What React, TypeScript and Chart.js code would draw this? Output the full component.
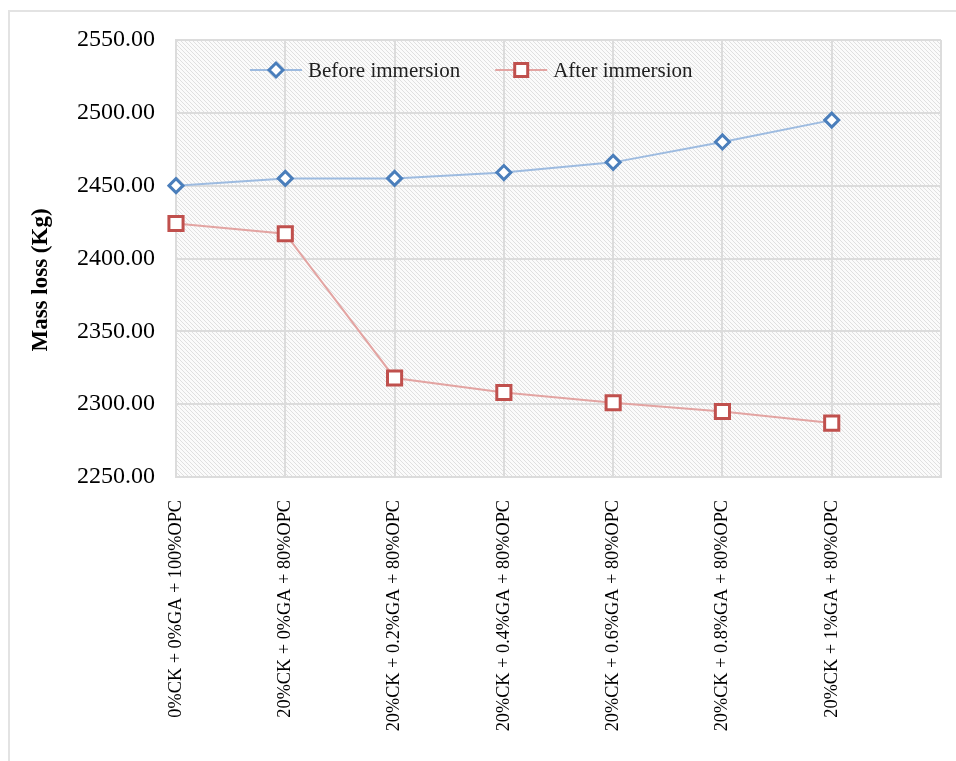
import React, { useEffect, useRef } from 'react';
import { Chart, registerables } from 'chart.js';

Chart.register(...registerables);

const categories = [
  '0%CK + 0%GA + 100%OPC',
  '20%CK + 0%GA + 80%OPC',
  '20%CK + 0.2%GA + 80%OPC',
  '20%CK + 0.4%GA + 80%OPC',
  '20%CK + 0.6%GA + 80%OPC',
  '20%CK + 0.8%GA + 80%OPC',
  '20%CK + 1%GA + 80%OPC',
];
const beforeImmersion = [2450, 2455, 2455, 2459, 2466, 2480, 2495];
const afterImmersion = [2424, 2417, 2318, 2308, 2301, 2295, 2287];
const seriesNames = ['Before immersion', 'After immersion'];
const yAxisTitle = 'Mass loss (Kg)';
const yMin = 2250;
const yMax = 2550;
const yStep = 50;

const FONT = "'Liberation Serif', 'Times New Roman', serif";
const BLUE = '#4a7ebb';
const BLUE_LINE = '#9dbbe0';
const RED = '#c0504d';
const RED_LINE = '#e3a4a2';
const GRID = '#dcdcdc';

const hatchPlugin = {
  id: 'hatch',
  beforeDraw(chart: any) {
    const { ctx, chartArea: a } = chart;
    const tile = document.createElement('canvas');
    tile.width = 4;
    tile.height = 4;
    const t = tile.getContext('2d')!;
    t.fillStyle = '#fbfbfb';
    t.fillRect(0, 0, 4, 4);
    t.fillStyle = '#e0e0e0';
    for (let i = 0; i < 4; i++) t.fillRect(i, i, 1, 1);
    const pat = ctx.createPattern(tile, 'repeat');
    ctx.save();
    ctx.fillStyle = pat;
    ctx.fillRect(a.left, a.top, a.right - a.left, a.bottom - a.top);
    ctx.restore();
  },
};

function drawMarker(ctx: CanvasRenderingContext2D, kind: string, x: number, y: number, color: string) {
  ctx.save();
  ctx.beginPath();
  if (kind === 'diamond') {
    const r = 7;
    ctx.moveTo(x, y - r);
    ctx.lineTo(x + r, y);
    ctx.lineTo(x, y + r);
    ctx.lineTo(x - r, y);
    ctx.closePath();
    ctx.lineWidth = 3;
  } else {
    const h = 6.5;
    ctx.rect(x - h, y - h, 2 * h, 2 * h);
    ctx.lineWidth = 3;
  }
  ctx.fillStyle = '#ffffff';
  ctx.fill();
  ctx.strokeStyle = color;
  ctx.stroke();
  ctx.restore();
}

const legendPlugin = {
  id: 'customLegend',
  afterDraw(chart: any) {
    const { ctx } = chart;
    const y = 70;
    let x = 250;
    ctx.save();
    ctx.font = `21px ${FONT}`;
    ctx.textBaseline = 'middle';
    ctx.textAlign = 'left';
    chart.data.datasets.forEach((ds: any, i: number) => {
      const lineLen = 52;
      ctx.beginPath();
      ctx.strokeStyle = ds.borderColor;
      ctx.lineWidth = 2;
      ctx.moveTo(x, y);
      ctx.lineTo(x + lineLen, y);
      ctx.stroke();
      drawMarker(ctx, i === 0 ? 'diamond' : 'square', x + lineLen / 2, y, ds.pointBorderColor);
      ctx.fillStyle = '#1f1f1f';
      ctx.fillText(ds.label, x + lineLen + 6, y + 1);
      const w = ctx.measureText(ds.label).width;
      x += lineLen + 6 + w + 35;
    });
    ctx.restore();
  },
};

const yTitlePlugin = {
  id: 'yTitle',
  afterDraw(chart: any) {
    const { ctx } = chart;
    ctx.save();
    ctx.translate(41, 280);
    ctx.rotate(-Math.PI / 2);
    ctx.font = `bold 23px ${FONT}`;
    ctx.fillStyle = '#000';
    ctx.textAlign = 'center';
    ctx.textBaseline = 'middle';
    ctx.fillText(yAxisTitle, 0, 0);
    ctx.restore();
  },
};

export default function App() {
  const ref = useRef<HTMLCanvasElement>(null);

  useEffect(() => {
    const canvas = ref.current!;
    const chart = new Chart(canvas, {
      type: 'line',
      data: {
        labels: [...categories, ''],
        datasets: [
          {
            label: seriesNames[0],
            data: beforeImmersion,
            borderColor: BLUE_LINE,
            borderWidth: 2,
            pointStyle: 'rectRot',
            pointRadius: 7,
            pointBorderWidth: 3,
            pointBorderColor: BLUE,
            pointBackgroundColor: '#ffffff',
            tension: 0,
          },
          {
            label: seriesNames[1],
            data: afterImmersion,
            borderColor: RED_LINE,
            borderWidth: 2,
            pointStyle: 'rect',
            pointRadius: 10,
            pointBorderWidth: 3,
            pointBorderColor: RED,
            pointBackgroundColor: '#ffffff',
            tension: 0,
          },
        ],
      },
      options: {
        responsive: false,
        animation: false,
        devicePixelRatio: 1,
        layout: { padding: { top: 40, right: 15, left: 0, bottom: 0 } },
        plugins: {
          legend: { display: false },
          tooltip: { enabled: false },
        },
        scales: {
          x: {
            type: 'category',
            offset: false,
            grid: { color: GRID, lineWidth: 2, drawTicks: false },
            border: { display: true, color: GRID, width: 2 },
            ticks: {
              autoSkip: false,
              minRotation: 90,
              maxRotation: 90,
              padding: 23,
              color: '#000',
              font: { family: FONT, size: 18.3 },
            },
            afterFit: (s: any) => {
              s.height = 284;
              s.paddingLeft = 0;
              s.paddingRight = 0;
            },
          },
          y: {
            min: yMin,
            max: yMax,
            grid: { color: GRID, lineWidth: 2, drawTicks: false },
            border: { display: true, color: GRID, width: 2 },
            ticks: {
              stepSize: yStep,
              padding: 21,
              color: '#000',
              font: { family: FONT, size: 24 },
              callback: (v: any) => Number(v).toFixed(2),
            },
            afterFit: (s: any) => {
              s.width = 176;
              s.paddingTop = 0;
              s.paddingBottom = 0;
            },
          },
        },
      },
      plugins: [hatchPlugin, legendPlugin, yTitlePlugin],
    } as any);
    return () => chart.destroy();
  }, []);

  return (
    <div style={{ position: 'absolute', left: 0, top: 0, width: 956, height: 761, background: '#fff', overflow: 'hidden' }}>
      <div
        style={{
          position: 'absolute',
          left: 8,
          top: 10,
          width: 960,
          height: 760,
          borderTop: '2px solid #e3e3e3',
          borderLeft: '2px solid #e3e3e3',
        }}
      />
      <canvas ref={ref} width={956} height={761} style={{ position: 'absolute', left: 0, top: 0 }} />
    </div>
  );
}
